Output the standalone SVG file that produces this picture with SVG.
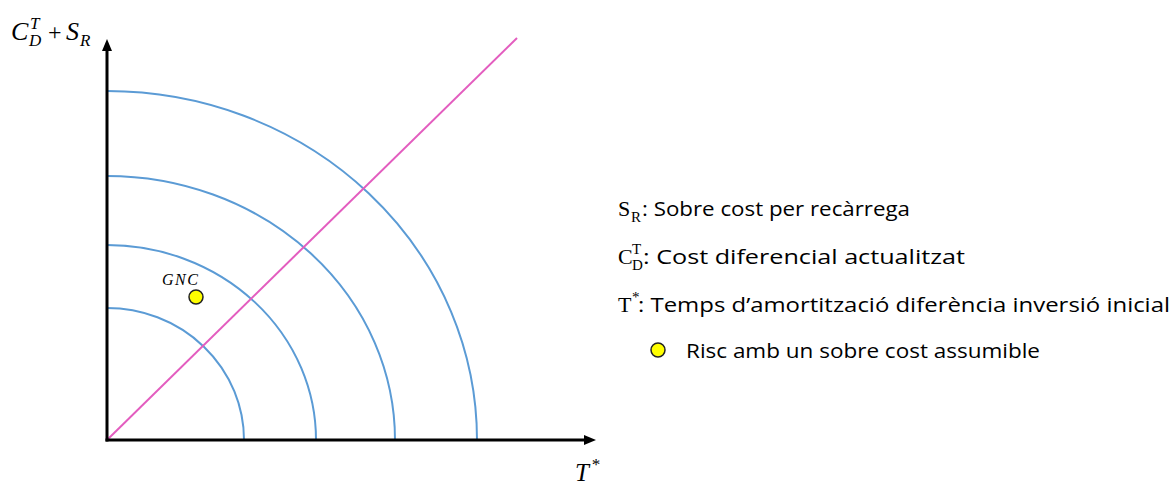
<svg xmlns="http://www.w3.org/2000/svg" width="1175" height="484" viewBox="0 0 1175 484">
<defs>
<style>
.axis{stroke:#000;stroke-width:3;fill:none}
.arc{stroke:#5B9BD5;stroke-width:2;fill:none}
.diag{stroke:#E35DBF;stroke-width:2;fill:none}
.math{font-family:"Liberation Serif","DejaVu Serif",serif;font-style:italic;fill:#000}
.sym{font-family:"Liberation Serif","DejaVu Serif",serif;fill:#000}
.leg{font-family:"Open Sans","Liberation Sans",sans-serif;font-size:20px;fill:#000}
.dot{fill:#FFFF00;stroke:#222;stroke-width:1.5}
</style>
<marker id="arr" markerWidth="14" markerHeight="12" refX="1" refY="6" orient="auto" markerUnits="userSpaceOnUse">
<path d="M0,1 L12,6 L0,11 Z" fill="#000"/>
</marker>
</defs>
<g id="connectors">
<path class="arc" d="M107 308 A137 132 0 0 1 244 440"/>
<path class="arc" d="M107 245 A209 195 0 0 1 316 440"/>
<path class="arc" d="M107 176 A288 264 0 0 1 395 440"/>
<path class="arc" d="M107 91 A370 349 0 0 1 477 440"/>
<line class="diag" x1="107" y1="440" x2="517" y2="38"/>
<line class="axis" x1="107" y1="441.5" x2="107" y2="50" marker-end="url(#arr)"/>
<line class="axis" x1="105.5" y1="440" x2="585" y2="440" marker-end="url(#arr)"/>
</g>
<g id="y-label">
<text class="math" x="11" y="40" font-size="26">C</text>
<text class="math" x="30" y="29" font-size="17">T</text>
<text class="math" x="29" y="46" font-size="17">D</text>
<text class="sym" x="48" y="40" font-size="24">+</text>
<text class="math" x="66" y="40" font-size="26">S</text>
<text class="math" x="80" y="46" font-size="17">R</text>
</g>
<g id="x-label">
<text class="math" x="575" y="481" font-size="25">T</text>
<text class="math" x="591" y="470" font-size="17">*</text>
</g>
<g id="gnc">
<text class="math" x="162" y="285" font-size="16" letter-spacing="1.5">GNC</text>
<circle class="dot" cx="196" cy="297" r="7"/>
</g>
<g id="legend">
<text class="sym" x="618" y="216" font-size="22">S</text>
<text class="sym" x="631" y="222" font-size="15">R</text>
<text class="leg" x="642" y="216" textLength="268" lengthAdjust="spacingAndGlyphs">: Sobre cost per recàrrega</text>
<text class="sym" x="618" y="264" font-size="22">C</text>
<text class="sym" x="632" y="254" font-size="15">T</text>
<text class="sym" x="632" y="270" font-size="15">D</text>
<text class="leg" x="643" y="264" textLength="322" lengthAdjust="spacingAndGlyphs">: Cost diferencial actualitzat</text>
<text class="sym" x="618" y="312" font-size="22">T</text>
<text class="sym" x="632" y="302" font-size="15">*</text>
<text class="leg" x="638" y="312" textLength="532" lengthAdjust="spacingAndGlyphs">: Temps d’amortització diferència inversió inicial</text>
<circle class="dot" cx="658" cy="350" r="7"/>
<text class="leg" x="686" y="358" textLength="354" lengthAdjust="spacingAndGlyphs">Risc amb un sobre cost assumible</text>
</g>
</svg>
